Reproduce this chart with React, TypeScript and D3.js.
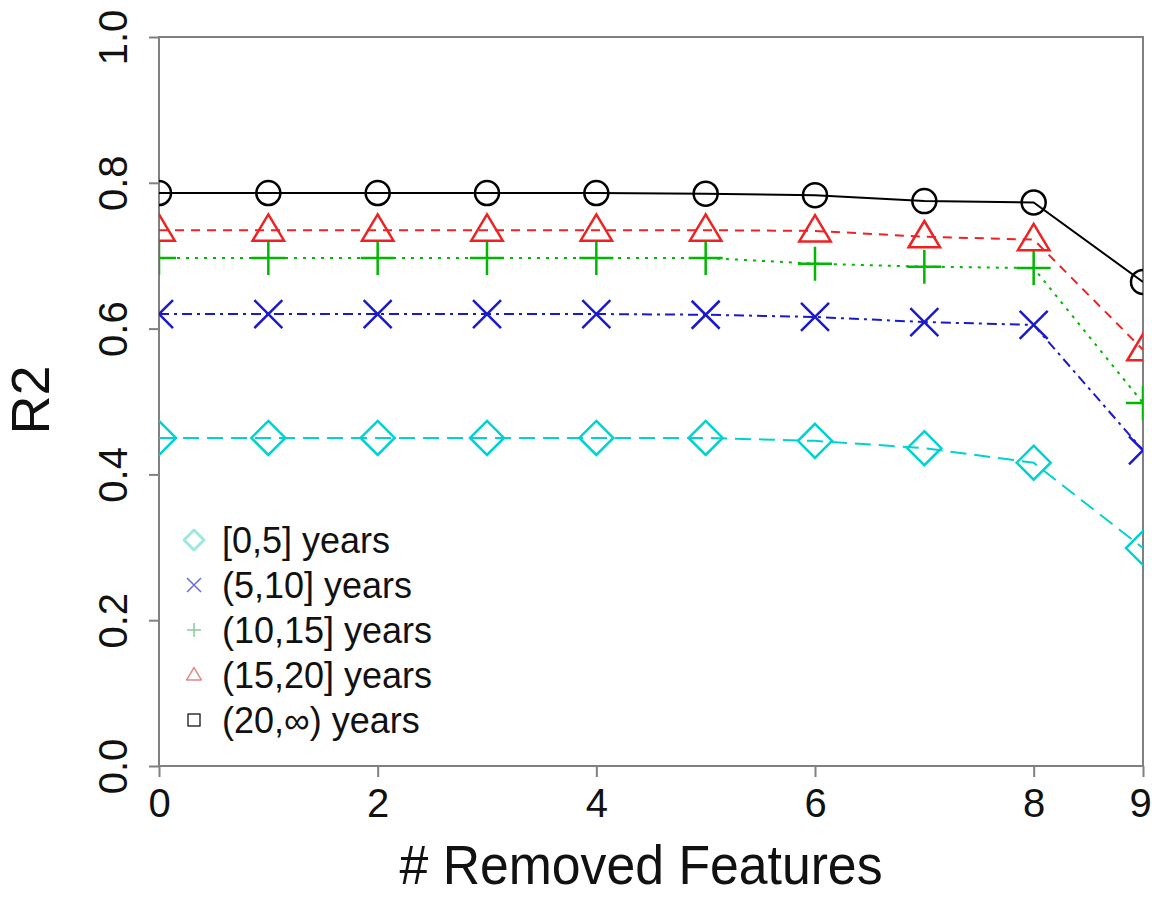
import { useEffect, useRef } from 'react'
import * as d3 from 'd3'

const removed = [0, 1, 2, 3, 4, 5, 6, 7, 8, 9]
const xTicks = [0, 2, 4, 6, 8, 9]
const yTicks = [0, 0.2, 0.4, 0.6, 0.8, 1.0]

const years0to5 = [0.45, 0.45, 0.45, 0.45, 0.45, 0.45, 0.446, 0.436, 0.416, 0.299]
const years5to10 = [0.62, 0.62, 0.62, 0.62, 0.62, 0.619, 0.616, 0.609, 0.605, 0.433]
const years10to15 = [0.697, 0.697, 0.697, 0.697, 0.697, 0.697, 0.689, 0.685, 0.683, 0.498]
const years15to20 = [0.735, 0.735, 0.735, 0.735, 0.735, 0.735, 0.734, 0.726, 0.722, 0.571]
const years20plus = [0.786, 0.786, 0.786, 0.786, 0.786, 0.785, 0.783, 0.775, 0.773, 0.664]

const seriesLabels = ['[0,5] years', '(5,10] years', '(10,15] years', '(15,20] years', '(20,\u221e) years']

const FONT = '"Liberation Sans", Arial, Helvetica, sans-serif'

// marker paths centred on 0,0
const markerPath = (kind: string, s: number) => {
  switch (kind) {
    case 'diamond': return `M0,${-s}L${s},0L0,${s}L${-s},0Z`
    case 'times': return `M${-s},${-s}L${s},${s}M${-s},${s}L${s},${-s}`
    case 'plus': return `M${-s},0L${s},0M0,${-s}L0,${s}`
    case 'triangle': return `M0,${-s * 1.05}L${s * 1.05},${s * 0.7}L${-s * 1.05},${s * 0.7}Z`
    default: return d3.symbol(d3.symbolCircle, Math.PI * s * s)() as string
  }
}

export default function App() {
  const ref = useRef<SVGSVGElement>(null)

  useEffect(() => {
    const margin = { top: 37, right: 9, bottom: 131, left: 159 }
    const W = 1152, H = 897
    const width = W - margin.left - margin.right
    const height = H - margin.top - margin.bottom

    const root = d3.select(ref.current)
    root.selectAll('*').remove()

    const series = [
      { values: years0to5, color: '#00d2d2', dash: '16,8', marker: 'diamond', size: 17, legendColor: '#9fe8e0' },
      { values: years5to10, color: '#1a1acc', dash: '10,5,3,5', marker: 'times', size: 14, legendColor: '#6a6ae0' },
      { values: years10to15, color: '#00b800', dash: '3,6', marker: 'plus', size: 17, legendColor: '#88cc99' },
      { values: years15to20, color: '#ee2222', dash: '9,7', marker: 'triangle', size: 15, legendColor: '#e08888' },
      { values: years20plus, color: '#000000', dash: null, marker: 'circle', size: 12, legendColor: '#333333' },
    ]

    const svg = root.append('g').attr('transform', `translate(${margin.left},${margin.top})`)

    const x = d3.scaleLinear().domain([0, 9]).range([0, width])
    const y = d3.scaleLinear().domain([0, 1]).range([height, 0])

    root.append('defs').append('clipPath').attr('id', 'plot-clip')
      .append('rect').attr('x', margin.left).attr('y', margin.top).attr('width', width).attr('height', height)

    // frame
    svg.append('rect')
      .attr('width', width).attr('height', height)
      .attr('fill', 'none').attr('stroke', '#808080').attr('stroke-width', 2)

    // x axis
    const xAxis = svg.append('g')
      .attr('transform', `translate(0,${height})`)
      .call(d3.axisBottom(x).tickValues(xTicks).tickSize(11).tickFormat(d3.format('d')))
    xAxis.select('.domain').remove()
    xAxis.selectAll('line').attr('stroke', '#808080').attr('stroke-width', 2)
    xAxis.selectAll('text')
      .attr('y', 0).attr('dy', 51)
      .attr('transform', (d: any) => d === 9 ? 'translate(-3,0)' : null)
      .style('font-family', FONT).style('font-size', '40px').style('fill', '#111')

    // y axis
    const yAxis = svg.append('g')
      .call(d3.axisLeft(y).tickValues(yTicks).tickSize(10).tickFormat(d3.format('.1f')))
    yAxis.select('.domain').remove()
    yAxis.selectAll('line').attr('stroke', '#808080').attr('stroke-width', 2)
    yAxis.selectAll('text')
      .attr('x', 0).attr('dy', 0)
      .attr('transform', 'translate(-32,0) rotate(-90)')
      .attr('text-anchor', 'middle')
      .style('font-family', FONT).style('font-size', '40px').style('fill', '#111')

    // axis titles
    root.append('text')
      .attr('x', 641).attr('y', 884)
      .attr('text-anchor', 'middle')
      .attr('textLength', 483).attr('lengthAdjust', 'spacingAndGlyphs')
      .style('font-family', FONT).style('font-size', '56px').style('fill', '#111')
      .text('# Removed Features')

    root.append('text')
      .attr('transform', 'translate(49,400) rotate(-90)')
      .attr('text-anchor', 'middle')
      .style('font-family', FONT).style('font-size', '54px').style('fill', '#111')
      .text('R2')

    // lines + markers, clipped to the plot box
    const plot = root.append('g').attr('clip-path', 'url(#plot-clip)')
      .append('g').attr('transform', `translate(${margin.left},${margin.top})`)

    const line = d3.line<number>().x((_, i) => x(removed[i])).y(d => y(d))

    series.forEach(s => {
      plot.append('path')
        .datum(s.values)
        .attr('d', line)
        .attr('fill', 'none')
        .attr('stroke', s.color)
        .attr('stroke-width', 2)
        .attr('stroke-dasharray', s.dash)

      plot.selectAll(null)
        .data(s.values)
        .join('path')
        .attr('transform', (d, i) => `translate(${x(removed[i])},${y(d)})`)
        .attr('d', markerPath(s.marker, s.size))
        .attr('fill', 'none')
        .attr('stroke', s.color)
        .attr('stroke-width', 2.5)
    })

    // legend
    const legend = root.append('g').attr('transform', 'translate(194,553)')
    series.forEach((s, i) => {
      const g = legend.append('g').attr('transform', `translate(0,${i * 45})`)
      g.append('path')
        .attr('transform', 'translate(0,-13)')
        .attr('d', s.marker === 'circle' ? 'M-6,-6H6V6H-6Z' : markerPath(s.marker, s.marker === 'diamond' ? 10 : 7))
        .attr('fill', 'none')
        .attr('stroke', s.legendColor)
        .attr('stroke-width', s.marker === 'diamond' ? 3 : 1.5)
        .attr('stroke-linejoin', 'round')
      g.append('text')
        .attr('x', 28).attr('y', 0)
        .style('font-family', FONT).style('font-size', '36px').style('fill', '#111')
        .text(seriesLabels[i])
    })
  }, [])

  return (
    <svg
      ref={ref}
      width={1152}
      height={897}
      style={{ position: 'absolute', left: 0, top: 0, background: '#fff' }}
    />
  )
}
